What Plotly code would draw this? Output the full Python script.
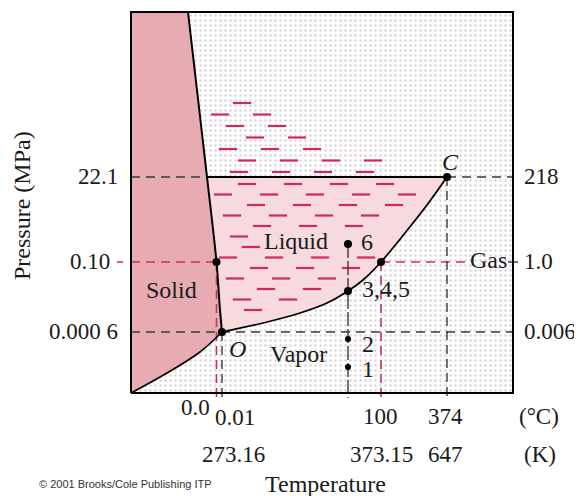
import numpy as np
import plotly.graph_objects as go

# ---------------- data (schematic units: frame is 382 x 381) ----------------
FRAME_W, FRAME_H = 382, 381

# pressure levels (heights in schematic units) and their labels
P_LEVELS = [216, 131, 61]
P_LABELS_MPA = ["22.1", "0.10", "0.000 6"]
P_LABELS_ATM = ["218", "1.0", "0.006"]

# temperature positions (schematic)
T_ICE = 85.5      # 0.0 °C
T_TRIPLE = 91     # 0.01 °C
T_PATH = 217      # isotherm of states 1-6
T_BOIL = 250      # 100 °C
T_CRIT = 316      # 374 °C

TC_LABELS = ["0.0", "0.01", "100", "374", "(°C)"]
TK_LABELS = ["273.16", "373.15", "647", "(K)"]

# phase boundaries
melt_x = [57, 76, 85.5, 89, 91]
melt_y = [381, 216, 131, 83, 61]
sub_x = [0, 36, 69, 91]
sub_y = [0, 20, 41, 61]
vap_x = [91, 136, 169, 196, 217, 232, 250, 274, 296, 316]
vap_y = [61, 71, 80, 90, 102, 113, 131, 160, 188, 216]

# states along the isotherm
state_names = ["1", "2", "3,4,5", "6"]
state_y = [26, 54, 102, 149]

# ---------------- styles ----------------
FONT = "Liberation Serif, Times New Roman, serif"
FS = 24
SOLID_C = "#e7acb2"
LIQ_C = "#f6dadd"
HATCH_C = "#cf2a5c"
RED_D = "#c8325f"
BLK_D = "#3a3a3a"

fig = go.Figure()

def line(x, y, color, width=1.4, dash=None, shape="linear"):
    fig.add_trace(go.Scatter(x=x, y=y, mode="lines", hoverinfo="skip",
                             line=dict(color=color, width=width, dash=dash, shape=shape)))

# stippled background of frame
fig.add_trace(go.Scatter(x=[0, FRAME_W, FRAME_W, 0, 0], y=[0, 0, FRAME_H, FRAME_H, 0],
                         mode="lines", fill="toself", line=dict(width=0),
                         fillcolor="white", hoverinfo="skip",
                         fillpattern=dict(shape=".", size=5, solidity=0.18,
                                          fgcolor="#a08c93", bgcolor="white", fgopacity=0.4)))

# solid region
sx = [0] + melt_x + sub_x[::-1][1:] + [0]
sy = [FRAME_H] + melt_y + sub_y[::-1][1:] + [FRAME_H]
fig.add_trace(go.Scatter(x=sx, y=sy, mode="lines", fill="toself", fillcolor=SOLID_C,
                         line=dict(width=0), hoverinfo="skip"))

# liquid region
lx = melt_x[1:] + vap_x[1:] + [melt_x[1]]
ly = melt_y[1:] + vap_y[1:] + [melt_y[1]]
fig.add_trace(go.Scatter(x=lx, y=ly, mode="lines", fill="toself", fillcolor=LIQ_C,
                         line=dict(width=0), hoverinfo="skip"))

# ---------------- hatch dashes (decorative texture) ----------------
def inside(px, py, xs, ys):
    c = False
    n = len(xs)
    j = n - 1
    for i in range(n):
        if ((ys[i] > py) != (ys[j] > py)) and \
           (px < (xs[j] - xs[i]) * (py - ys[i]) / (ys[j] - ys[i]) + xs[i]):
            c = not c
        j = i
    return c

hx, hy = [], []
offs = [0, 22, 9, 31, 15, 38, 4, 27, 12, 34, 19, 41, 6, 29]
row = 0
for Y in np.arange(209, 62, -10.5):
    o = offs[row % len(offs)]
    for X in np.arange(70 + o, 330, 46):
        ok = all(inside(X + dx, Y + dy, lx, ly) for dx, dy in [(-9, 0), (9, 0), (0, -5), (-9, -5), (9, -5)])
        if not ok:
            continue
        if 125 < X < 205 and 140 < Y < 163:
            continue
        if 205 < X < 250 and 140 < Y < 160:
            continue
        hx.append(X); hy.append(Y)
    row += 1
row = 0
for Y in np.arange(221, 320, 11.5):
    o = offs[(row + 5) % len(offs)]
    xmax = 92 + (318 - Y) / 102 * 190
    for X in np.arange(70 + o, 330, 42):
        xm = np.interp(Y, melt_y[::-1], melt_x[::-1])
        if X - 9 > xm + 4 and X + 8 < xmax:
            hx.append(X); hy.append(Y)
    row += 1
fig.add_trace(go.Scatter(x=hx, y=hy, mode="markers", hoverinfo="skip",
                         marker=dict(symbol="line-ew", size=13,
                                     line=dict(color=HATCH_C, width=2.2))))

# ---------------- guide lines ----------------
BOT = -5
line([0, melt_x[1]], [P_LEVELS[0]] * 2, BLK_D, dash="9px,6px")
line([T_CRIT, FRAME_W], [P_LEVELS[0]] * 2, BLK_D, dash="9px,6px")
line([0, T_ICE], [P_LEVELS[1]] * 2, RED_D, 1.6, dash="9px,6px")
line([T_BOIL, 336], [P_LEVELS[1]] * 2, RED_D, 1.6, dash="9px,6px")
line([0, FRAME_W], [P_LEVELS[2]] * 2, BLK_D, dash="9px,6px")
line([T_ICE, T_ICE], [P_LEVELS[1], BOT], RED_D, 1.6, dash="9px,5px")
line([T_TRIPLE, T_TRIPLE], [P_LEVELS[2], BOT], BLK_D, dash="9px,5px")
line([T_PATH, T_PATH], [state_y[3], BOT], BLK_D, dash="14px,3px")
line([T_BOIL, T_BOIL], [P_LEVELS[1], BOT], RED_D, 1.6, dash="9px,5px")
line([T_CRIT, T_CRIT], [P_LEVELS[0], BOT], BLK_D, dash="9px,5px")
line([-14, -8], [P_LEVELS[1]] * 2, RED_D, 1.6)
line([377, 387], [P_LEVELS[1]] * 2, BLK_D, 1.4)

# ---------------- phase boundaries ----------------
line(melt_x, melt_y, "black", 2.0, shape="spline")
line(sub_x, sub_y, "black", 1.6, shape="spline")
line(vap_x, vap_y, "black", 1.8, shape="spline")
line([melt_x[1], T_CRIT], [P_LEVELS[0]] * 2, "black", 2.0)

# frame
line([0, FRAME_W, FRAME_W, 0, 0], [0, 0, FRAME_H, FRAME_H, 0], "black", 2.0)

# ---------------- points ----------------
fig.add_trace(go.Scatter(x=[T_ICE, T_TRIPLE, T_CRIT, T_BOIL, T_PATH, T_PATH],
                         y=[P_LEVELS[1], P_LEVELS[2], P_LEVELS[0], P_LEVELS[1], state_y[2], state_y[3]],
                         mode="markers", hoverinfo="skip",
                         marker=dict(color="black", size=8)))
fig.add_trace(go.Scatter(x=[T_PATH] * 2, y=state_y[:2], mode="markers", hoverinfo="skip",
                         marker=dict(color="black", size=6)))

# ---------------- text ----------------
def txt(x, y, s, xanchor="center", size=FS, italic=False, angle=0, family=FONT, color="#1a1a1a"):
    if italic:
        s = "<i>" + s + "</i>"
    fig.add_annotation(x=x, y=y, text=s, showarrow=False, xanchor=xanchor, yanchor="middle",
                       textangle=angle, font=dict(family=family, size=size, color=color))

for lev, lab in zip(P_LEVELS, P_LABELS_MPA):
    txt(-11 if lab != "0.10" else -19, lev + 1, lab, xanchor="right", size=23)
for lev, lab in zip(P_LEVELS, P_LABELS_ATM):
    txt(391, lev + 1, lab, xanchor="left", size=23)

txt(81, -14, TC_LABELS[0], xanchor="right", size=23)
txt(82, -24, TC_LABELS[1], xanchor="left", size=23)
txt(T_BOIL - 1, -23, TC_LABELS[2], size=23)
txt(T_CRIT - 2, -23, TC_LABELS[3], size=23)
txt(408, -23, TC_LABELS[4], size=23)
txt(102, -61, TK_LABELS[0], size=23)
txt(T_BOIL, -61, TK_LABELS[1], size=23)
txt(T_CRIT - 2, -61, TK_LABELS[2], size=23)
txt(409, -61, TK_LABELS[3], size=23)

txt(194, -91, "Temperature")
txt(-109, 187, "Pressure (MPa)", angle=-90, size=24)
txt(-94, -91, "© 2001 Brooks/Cole Publishing ITP", xanchor="left", size=11,
    family="Liberation Sans, Arial, sans-serif", color="#333333")

txt(40, 103, "Solid")
txt(165, 152, "Liquid")
txt(167, 39, "Vapor")
txt(357, 133, "Gas")
txt(106, 44, "O", italic=True)
txt(319, 231, "C", italic=True)
txt(228, 151, state_names[3], xanchor="left")
txt(229, 104, state_names[2], xanchor="left")
txt(229, 49, state_names[1], xanchor="left")
txt(229, 24, state_names[0], xanchor="left")

# the page body adds an 8 px offset, so the ranges are shifted accordingly
fig.update_layout(
    width=582, height=496, showlegend=False,
    margin=dict(l=0, r=0, t=0, b=0),
    paper_bgcolor="white", plot_bgcolor="white",
    xaxis=dict(range=[-123, 459], visible=False, fixedrange=True),
    yaxis=dict(range=[-111, 385], visible=False, fixedrange=True),
)

fig.write_html("out.html")
